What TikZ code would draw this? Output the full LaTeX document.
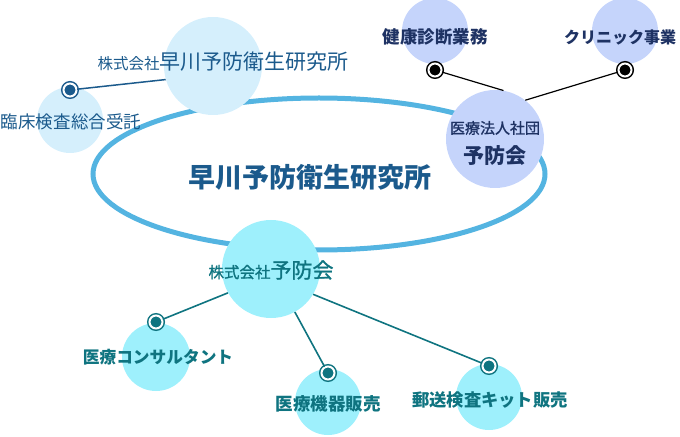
\documentclass[tikz,border=0pt]{standalone}
\usepackage{fontspec}
\setmainfont{Noto Sans CJK JP}
\newfontfamily\medfont[FakeBold=1.2]{Noto Sans CJK JP}
\usetikzlibrary{positioning}
\definecolor{ringblue}{RGB}{84,180,225}
\definecolor{paleblue}{RGB}{213,239,252}
\definecolor{deepblue}{RGB}{27,90,140}
\definecolor{lavender}{RGB}{197,212,251}
\definecolor{navyblue}{RGB}{30,50,99}
\definecolor{aqua}{RGB}{158,240,252}
\definecolor{darkteal}{RGB}{15,116,128}
\newcommand{\sz}[1]{\fontsize{#1bp}{#1bp}\selectfont}

\begin{document}
\begin{tikzpicture}[x=1bp,y=-1bp,on grid,
  bubble/.style={circle,fill=#1,minimum size=66bp,inner sep=0pt},
  bigbubble/.style={bubble=#1,minimum size=98bp},
  stud/.style={circle,draw=#1,fill=#1,line width=1.5bp,double=white,double distance=2bp,minimum size=13bp,inner sep=0pt},
  lbl/.style={text=#1,inner sep=0pt}]
  \useasboundingbox (0,0) rectangle (680,437);
  % the ring
  \draw[ringblue,line width=5bp] (319,174) ellipse [x radius=226,y radius=76];

  % circles
  \node[bigbubble=paleblue] (hyri) at (213,66) {};
  \node[bubble=paleblue] (rinsho) at (70,120) {};
  \node[bigbubble=lavender] (iryo) at (495,139) {};
  \node[bubble=lavender] (kenshin) at (435,31) {};
  \node[bubble=lavender] (clinic) at (625,31) {};
  \node[bigbubble=aqua] (yobo) at (271,269) {};
  \node[bubble=aqua,minimum size=68bp] (consult) at (156,357) {};
  \node[bubble=aqua] (kiki) at (328,402) {};
  \node[bubble=aqua] (kit) at (489,397) {};

  % markers
  \node[stud=deepblue] (s-rinsho) [above=30bp of rinsho] {};
  \node[stud=black] (s-kenshin) [below=39bp of kenshin] {};
  \node[stud=black] (s-clinic) [below=39bp of clinic] {};
  \node[stud=darkteal] (s-consult) [above=35bp of consult] {};
  \node[stud=darkteal] (s-kiki) [above=29bp of kiki] {};
  \node[stud=darkteal] (s-kit) [above=31bp of kit] {};

  % links
  \draw[deepblue,line width=1.5bp] (s-rinsho) -- (hyri.196);
  \draw[black,line width=1.2bp] (s-kenshin) -- (iryo.80);
  \draw[black,line width=1.2bp] (s-clinic) -- (iryo.52);
  \draw[darkteal,line width=1.6bp] (s-consult) -- (yobo.209);
  \draw[darkteal,line width=1.6bp] (s-kiki) -- (yobo.299);
  \draw[darkteal,line width=1.6bp] (s-kit) -- (yobo.329);

  % texts
  \node[lbl=deepblue,font=\sz{21}] (t-hyri) at (223,62) {{\sz{15.5}株式会社}早川予防衛生研究所};
  \node[lbl=deepblue,font=\sz{17.5}] (t-rinsho) at (71,122) {臨床検査総合受託};
  \node[lbl=navyblue,font=\bfseries\sz{17.5}] (t-kenshin) at (435,37) {健康診断業務};
  \node[lbl=navyblue,font=\bfseries\sz{16}] (t-clinic) at (620,37) {クリニック事業};
  \node[lbl=navyblue,font=\medfont\sz{15}] (t-iryo) at (495,128) {医療法人社団};
  \node[lbl=navyblue,font=\bfseries\sz{21}] (t-iryo2) [below=28bp of t-iryo] {予防会};
  \node[lbl=deepblue,font=\bfseries\sz{27}] (title) at (310,177) {早川予防衛生研究所};
  \node[lbl=darkteal,font=\medfont\sz{21}] (t-yobo) at (271,270) {{\sz{15.5}株式会社}予防会};
  \node[lbl=darkteal,font=\bfseries\sz{16.7}] (t-consult) at (158,357) {医療コンサルタント};
  \node[lbl=darkteal,font=\bfseries\sz{17.5}] (t-kiki) at (328,404) {医療機器販売};
  \node[lbl=darkteal,font=\bfseries\sz{17.3}] (t-kit) at (490,400) {郵送検査キット販売};
\end{tikzpicture}
\end{document}
